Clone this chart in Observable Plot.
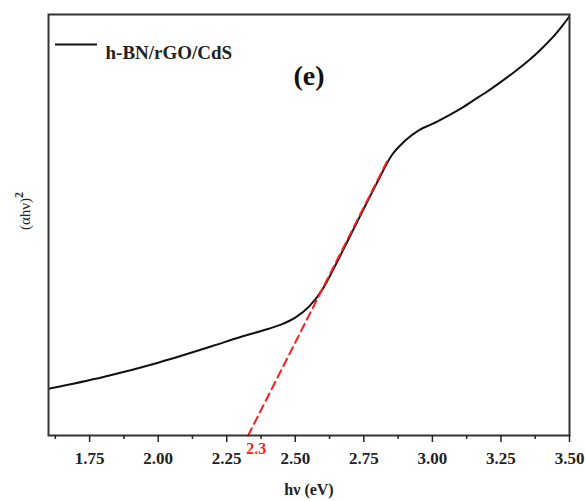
<!DOCTYPE html>
<html>
<head>
<meta charset="utf-8">
<script src="https://cdn.jsdelivr.net/npm/d3@7"></script>
<script src="https://cdn.jsdelivr.net/npm/@observablehq/plot@0.6"></script>
<style>
  html, body { margin: 0; padding: 0; background: #fff; }
  #chart svg { display: block; }
  #chart svg text { font-family: "Liberation Serif", "DejaVu Serif", serif; }
</style>
</head>
<body>
<div id="chart"></div>
<script>
// Photon energy (eV) and (αhν)² in arbitrary units
const energy = [1.60, 1.80, 2.00, 2.20, 2.30, 2.40, 2.45, 2.50, 2.55, 2.60, 2.65, 2.70, 2.75, 2.80, 2.85, 2.90, 2.95, 3.00, 3.05, 3.10, 3.15, 3.20, 3.25, 3.30, 3.35, 3.40, 3.45, 3.475, 3.50];
const absorb = [11.1, 13.9, 17.3, 21.3, 23.4, 25.3, 26.4, 28.0, 30.6, 34.8, 40.9, 47.4, 53.9, 60.3, 66.4, 70.0, 72.5, 74.0, 75.7, 77.5, 79.6, 81.7, 84.0, 86.4, 89.0, 92.0, 95.4, 97.4, 99.6];
// Tangent (Tauc extrapolation) line
const fitEnergy = [2.328, 2.840];
const fitAbsorb = [0, 65.8];
const bandGapLabel = "2.3";
const majorTicks = [1.75, 2.00, 2.25, 2.50, 2.75, 3.00, 3.25, 3.50];
const minorTicks = [1.625, 1.875, 2.125, 2.375, 2.625, 2.875, 3.125, 3.375];
const seriesName = "h-BN/rGO/CdS";
const panelLabel = "(e)";
const xLabel = "hν (eV)";
const yLabelMain = "(αhν)";
const yLabelSup = "2";

const curve = energy.map((e, i) => ({e, a: absorb[i]}));
const fit = fitEnergy.map((e, i) => ({e, a: fitAbsorb[i]}));

const serif = "Liberation Serif";

const chart = Plot.plot({
  width: 585,
  height: 501,
  marginLeft: 48,
  marginRight: 16,
  marginTop: 14,
  marginBottom: 66,
  style: {fontFamily: serif, background: "#fff"},
  x: {domain: [1.6, 3.5]},
  y: {domain: [0, 100], axis: null},
  marks: [
    Plot.line(curve, {x: "e", y: "a", curve: "monotone-x", stroke: "#111", strokeWidth: 2, clip: true}),
    Plot.line(fit, {x: "e", y: "a", stroke: "#ff1a1a", strokeWidth: 2, strokeDasharray: "8,5"}),
    Plot.frame({stroke: "#333", strokeWidth: 2}),
    Plot.axisX(minorTicks, {tickSize: 4, tickFormat: () => "", stroke: "#222", strokeWidth: 1.5, label: null}),
    Plot.axisX(majorTicks, {tickSize: 7, tickPadding: 9, tickFormat: d3.format(".2f"), stroke: "#222", strokeWidth: 1.5,
      fontSize: 17, fontWeight: "bold", fontFamily: serif, fill: "#222", label: null}),
    Plot.text([bandGapLabel], {x: fitEnergy[0], y: fitAbsorb[0], text: d => d, dx: 8, dy: 13,
      fill: "#ff1a1a", fontSize: 16, fontWeight: "bold", fontFamily: serif}),
    Plot.text([xLabel], {frameAnchor: "bottom", text: d => d, dy: 59, fontSize: 16, fontWeight: "bold", fontFamily: serif, fill: "#222"}),
    Plot.text([panelLabel], {frameAnchor: "top", text: d => d, dy: 51, fontSize: 28, fontWeight: "bold", fontFamily: serif, fill: "#111"}),
    Plot.text([seriesName], {frameAnchor: "top-left", text: d => d, dx: 57, dy: 31, textAnchor: "start",
      fontSize: 19, fontWeight: "bold", fontFamily: serif, fill: "#222"})
  ]
});

const svg = d3.select(chart);
// legend swatch line next to the series name
svg.append("line")
  .attr("x1", 55).attr("x2", 97).attr("y1", 44.5).attr("y2", 44.5)
  .attr("stroke", "#111").attr("stroke-width", 2);
// y-axis title with superscript
const yt = svg.append("text")
  .attr("transform", "translate(27,211) rotate(-90)")
  .attr("text-anchor", "middle")
  .attr("dominant-baseline", "middle")
  .attr("font-family", serif)
  .attr("font-size", 15)
  .attr("fill", "#222");
yt.append("tspan").text(yLabelMain);
yt.append("tspan").attr("font-size", 12).attr("font-weight", "bold").attr("dy", -7).text(yLabelSup);

document.getElementById("chart").appendChild(chart);
</script>
</body>
</html>
